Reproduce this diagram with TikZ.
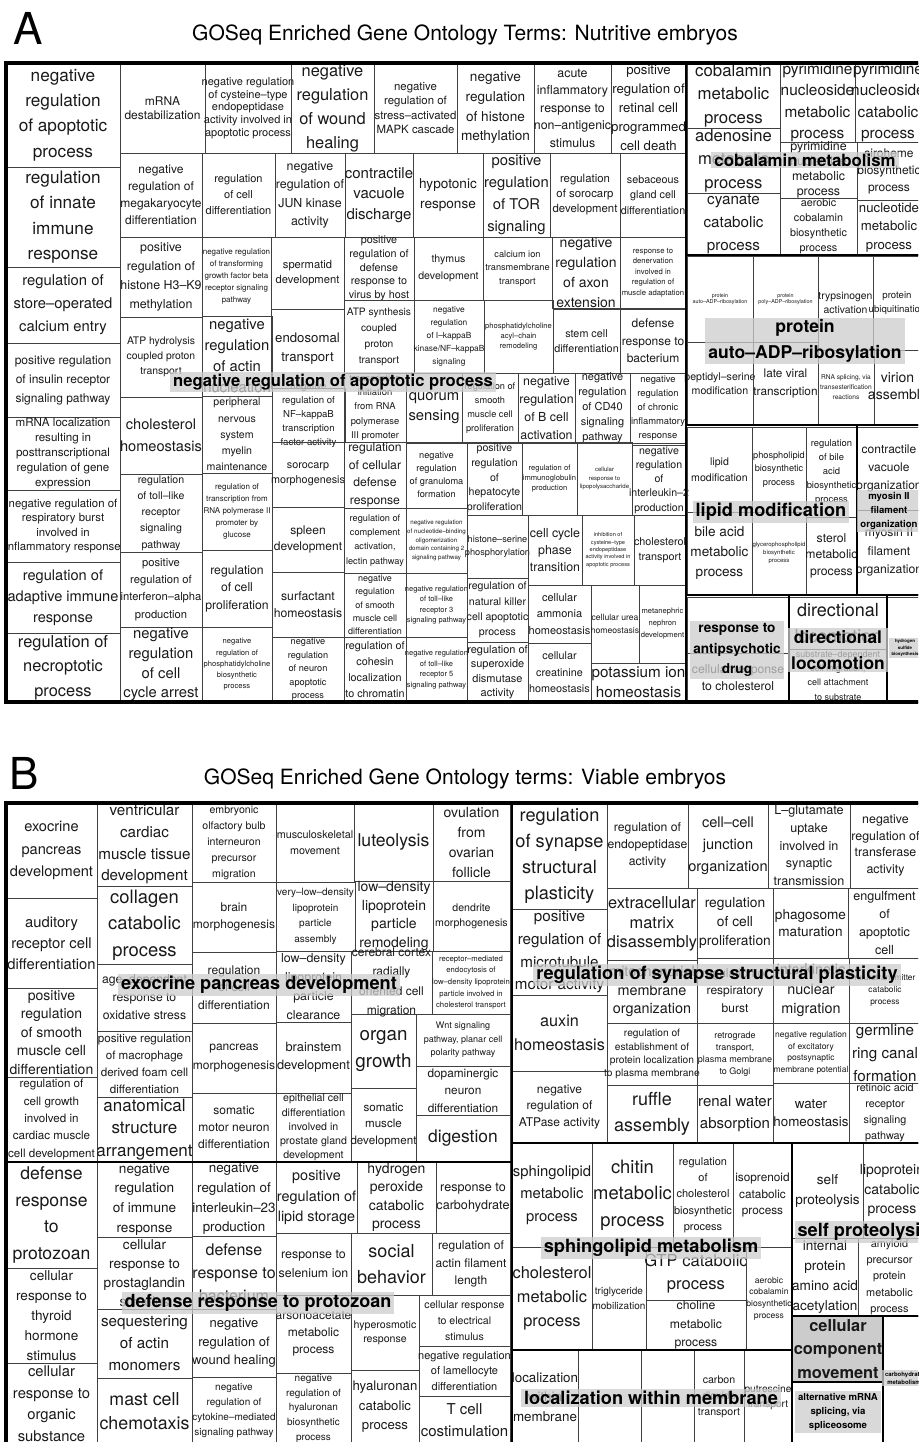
\documentclass[tikz,border=0pt]{standalone}
\usepackage{fontspec}
\setmainfont{TeX Gyre Heros}
\usepackage{tikz}

% one treemap tile: corners, font size, baselineskip, text
\newcommand\gocell[7]{%
  \draw[cellline] (#1,#2) rectangle (#3,#4);
  \node[celltext,font=\fontsize{#5}{#6}\selectfont] at ({(#1+#3)/2},{(#2+#4)/2}) {#7};}
% grey group label: name, position, font size, baselineskip, text
\newcommand\golabel[6]{%
  \node[grouplabel,font=\bfseries\fontsize{#4}{#5}\selectfont] (#1) at (#2,#3) {#6};}

\begin{document}
\begin{tikzpicture}[x=0.5pt,y=-0.5pt,line join=miter]
  \tikzset{cellline/.style={draw=black!75,line width=0.5pt},
    celltext/.style={align=center,inner sep=0pt,text=black!90},
    groupline/.style={draw=black,line width=1.4pt},
    frameline/.style={draw=black,line width=1.8pt},
    grouplabel/.style={align=center,fill=black!20,fill opacity=0.75,text opacity=1,
      inner xsep=1.5pt,inner ysep=1pt},
    paneltitle/.style={font=\fontsize{10.5}{12}\selectfont},
    panelletter/.style={font=\fontsize{22}{26}\selectfont}}

  \path[use as bounding box] (0,0) rectangle (918,1442);
  \clip (0,0) rectangle (918,1442);

  \node[panelletter] (letterA) at (28,28) {A};
  \node[paneltitle] (titleA) at (465,35) {GOSeq Enriched Gene Ontology Terms: Nutritive embryos};

  % A: negative regulation of apoptotic process
  \gocell{6}{63}{120}{167}{8.6}{12.6}{negative\\regulation\\of apoptotic\\process}
  \gocell{6}{167}{120}{267}{8.6}{12.8}{regulation\\of innate\\immune\\response}
  \gocell{6}{267}{120}{343}{7.4}{11.5}{regulation of\\store--operated\\calcium entry}
  \gocell{6}{343}{120}{417}{6}{9.5}{positive regulation\\of insulin receptor\\signaling pathway}
  \gocell{6}{417}{120}{490}{5.8}{7.6}{mRNA localization\\resulting in\\posttranscriptional\\regulation of gene\\expression}
  \gocell{6}{490}{120}{562}{5.7}{7.1}{negative regulation of\\respiratory burst\\involved in\\inflammatory response}
  \gocell{6}{562}{120}{633}{7.3}{10.4}{regulation of\\adaptive immune\\response}
  \gocell{6}{633}{120}{702}{8.2}{12.3}{regulation of\\necroptotic\\process}

  \gocell{120}{63}{205}{153}{6}{7}{mRNA\\destabilization}
  \gocell{205}{63}{291}{153}{5.5}{6.4}{negative regulation\\of cysteine--type\\endopeptidase\\activity involved in\\apoptotic process}
  \gocell{291}{63}{374}{153}{8.2}{12}{negative\\regulation\\of wound\\healing}
  \gocell{374}{63}{457}{153}{5.7}{7.3}{negative\\regulation of\\stress--activated\\MAPK cascade}
  \gocell{457}{63}{534}{153}{6.8}{9.8}{negative\\regulation\\of histone\\methylation}
  \gocell{534}{63}{611}{153}{6.2}{8.75}{acute\\inflammatory\\response to\\non--antigenic\\stimulus}
  \gocell{611}{63}{686}{153}{6.6}{9.5}{positive\\regulation of\\retinal cell\\programmed\\cell death}

  \gocell{120}{153}{202}{237}{6}{8.5}{negative\\regulation of\\megakaryocyte\\differentiation}
  \gocell{202}{153}{275}{237}{5.5}{8}{regulation\\of cell\\differentiation}
  \gocell{275}{153}{345}{237}{6.2}{9.3}{negative\\regulation of\\JUN kinase\\activity}
  \gocell{345}{153}{413}{237}{7.5}{10.4}{contractile\\vacuole\\discharge}
  \gocell{413}{153}{483}{237}{6.8}{10}{hypotonic\\response}
  \gocell{483}{153}{550}{237}{7.4}{10.9}{positive\\regulation\\of TOR\\signaling}
  \gocell{550}{153}{620}{237}{5.7}{7.5}{regulation\\of sorocarp\\development}
  \gocell{620}{153}{686}{237}{5.4}{7.9}{sebaceous\\gland cell\\differentiation}

  \gocell{120}{237}{202}{317}{6.2}{9.5}{positive\\regulation of\\histone H3--K9\\methylation}
  \gocell{202}{237}{271}{316}{4}{5.9}{negative regulation\\of transforming\\growth factor beta\\receptor signaling\\pathway}
  \gocell{271}{237}{344}{309}{5.6}{7.5}{spermatid\\development}
  \gocell{344}{237}{414}{300}{5.4}{6.9}{positive\\regulation of\\defense\\response to\\virus by host}
  \gocell{414}{237}{483}{300}{5.3}{8.3}{thymus\\development}
  \gocell{483}{237}{552}{300}{4.6}{6.9}{calcium ion\\transmembrane\\transport}
  \gocell{552}{237}{620}{308}{7}{10}{negative\\regulation\\of axon\\extension}
  \gocell{620}{237}{686}{308}{3.85}{5.3}{response to\\denervation\\involved in\\regulation of\\muscle adaptation}

  \gocell{120}{317}{202}{397}{5.2}{7.5}{ATP hydrolysis\\coupled proton\\transport}
  \gocell{202}{316}{272}{396}{7.4}{10.5}{negative\\regulation\\of actin\\nucleation}
  \gocell{271}{309}{344}{388}{6.6}{9.7}{endosomal\\transport}
  \gocell{344}{300}{414}{373}{5.1}{8}{ATP synthesis\\coupled\\proton\\transport}
  \gocell{414}{300}{484}{373}{4.2}{6.5}{negative\\regulation\\of I--kappaB\\kinase/NF--kappaB\\signaling}
  \gocell{484}{300}{553}{373}{3.8}{5}{phosphatidylcholine\\acyl--chain\\remodeling}
  \gocell{553}{309}{620}{373}{5.4}{7.5}{stem cell\\differentiation}
  \gocell{620}{309}{686}{373}{6}{8.8}{defense\\response to\\bacterium}

  \gocell{120}{397}{202}{474}{7.3}{11}{cholesterol\\homeostasis}
  \gocell{202}{396}{272}{473}{5.3}{8.1}{peripheral\\nervous\\system\\myelin\\maintenance}
  \gocell{120}{474}{202}{552}{5.3}{8.1}{regulation\\of toll--like\\receptor\\signaling\\pathway}
  \gocell{202}{473}{272}{550}{4}{5.9}{regulation of\\transcription from\\RNA polymerase II\\promoter by\\glucose}
  \gocell{120}{552}{202}{627}{5.6}{8.6}{positive\\regulation of\\interferon--alpha\\production}
  \gocell{202}{550}{272}{627}{6.1}{8.7}{regulation\\of cell\\proliferation}
  \gocell{120}{627}{202}{702}{7.4}{9.9}{negative\\regulation\\of cell\\cycle arrest}
  \gocell{202}{627}{272}{702}{3.8}{5.6}{negative\\regulation of\\phosphatidylcholine\\biosynthetic\\process}

  \gocell{272}{388}{345}{442}{4.8}{7}{negative\\regulation of\\NF--kappaB\\transcription\\factor activity}
  \gocell{272}{442}{344}{507}{5.4}{7.5}{sorocarp\\morphogenesis}
  \gocell{272}{507}{344}{572}{6}{8.3}{spleen\\development}
  \gocell{272}{572}{344}{637}{6.1}{8.3}{surfactant\\homeostasis}
  \gocell{272}{637}{344}{702}{4.6}{6.7}{negative\\regulation\\of neuron\\apoptotic\\process}

  \gocell{344}{373}{406}{442}{4.7}{7.2}{transcription\\initiation\\from RNA\\polymerase\\III promoter}
  \gocell{406}{373}{462}{443}{7.4}{10}{quorum\\sensing}
  \gocell{462}{373}{518}{443}{4.6}{7.1}{regulation of\\smooth\\muscle cell\\proliferation}
  \gocell{518}{373}{575}{443}{6.2}{9}{negative\\regulation\\of B cell\\activation}
  \gocell{575}{373}{630}{443}{5.5}{7.5}{negative\\regulation\\of CD40\\signaling\\pathway}
  \gocell{630}{373}{686}{443}{4.7}{7}{negative\\regulation\\of chronic\\inflammatory\\response}

  \gocell{344}{442}{406}{508}{6.1}{8.8}{regulation\\of cellular\\defense\\response}
  \gocell{406}{442}{467}{508}{4.6}{6.5}{negative\\regulation\\of granuloma\\formation}
  \gocell{467}{442}{522}{515}{5.3}{7.3}{positive\\regulation\\of\\hepatocyte\\proliferation}
  \gocell{522}{442}{577}{515}{3.8}{5}{regulation of\\immunoglobulin\\production}
  \gocell{577}{442}{632}{515}{3}{4.2}{cellular\\response to\\lipopolysaccharide}
  \gocell{632}{445}{686}{515}{5.3}{7.1}{negative\\regulation\\of\\interleukin--2\\production}

  \gocell{344}{508}{406}{573}{4.6}{7.1}{regulation of\\complement\\activation,\\lectin pathway}
  \gocell{406}{508}{467}{573}{3.1}{4.3}{negative regulation\\of nucleotide--binding\\oligomerization\\domain containing 2\\signaling pathway}
  \gocell{467}{515}{528}{578}{4.6}{6.8}{histone--serine\\phosphorylation}
  \gocell{528}{515}{582}{585}{6.2}{8.7}{cell cycle\\phase\\transition}
  \gocell{582}{515}{634}{585}{2.8}{3.7}{inhibition of\\cysteine--type\\endopeptidase\\activity involved in\\apoptotic process}
  \gocell{634}{515}{686}{585}{5.4}{7.5}{cholesterol\\transport}

  \gocell{344}{573}{406}{637}{4.5}{6.7}{negative\\regulation\\of smooth\\muscle cell\\differentiation}
  \gocell{406}{573}{467}{637}{3.75}{5.2}{negative regulation\\of toll--like\\receptor 3\\signaling pathway}
  \gocell{467}{578}{528}{642}{5.3}{7.6}{regulation of\\natural killer\\cell apoptotic\\process}
  \gocell{528}{585}{591}{643}{5.5}{8.2}{cellular\\ammonia\\homeostasis}
  \gocell{591}{585}{639}{663}{4.3}{6.2}{cellular urea\\homeostasis}
  \gocell{639}{585}{686}{663}{3.8}{6}{metanephric\\nephron\\development}
  \gocell{591}{663}{686}{702}{7.6}{10}{potassium ion\\homeostasis}
  \gocell{528}{643}{591}{702}{5.4}{8.3}{cellular\\creatinine\\homeostasis}
  \gocell{467}{642}{528}{702}{5.5}{7.2}{regulation of\\superoxide\\dismutase\\activity}
  \gocell{406}{637}{467}{702}{3.75}{5.2}{negative regulation\\of toll--like\\receptor 5\\signaling pathway}
  \gocell{344}{637}{406}{702}{5.4}{8}{regulation of\\cohesin\\localization\\to chromatin}

  % A: right hand groups
  \gocell{687}{63}{780}{128}{8.4}{11.8}{cobalamin\\metabolic\\process}
  \gocell{687}{128}{780}{193}{8.3}{11.8}{adenosine\\metabolic\\process}
  \gocell{687}{193}{780}{255}{7.6}{11.4}{cyanate\\catabolic\\process}
  \gocell{780}{63}{855}{142}{7.7}{10.8}{pyrimidine\\nucleoside\\metabolic\\process}
  \gocell{855}{63}{921}{142}{7.7}{10.8}{pyrimidine\\nucleoside\\catabolic\\process}
  \gocell{780}{142}{857}{198}{6.2}{7.6}{pyrimidine\\nucleotide\\metabolic\\process}
  \gocell{857}{142}{921}{200}{6}{8.5}{siroheme\\biosynthetic\\process}
  \gocell{780}{198}{857}{255}{5.4}{7.5}{aerobic\\cobalamin\\biosynthetic\\process}
  \gocell{857}{200}{921}{255}{6.6}{9.4}{nucleotide\\metabolic\\process}

  \gocell{687}{256}{753}{342}{2.7}{3}{protein\\auto--ADP--ribosylation}
  \gocell{753}{256}{818}{342}{2.7}{3}{protein\\poly--ADP--ribosylation}
  \gocell{818}{256}{873}{350}{5.2}{7.2}{trypsinogen\\activation}
  \gocell{873}{256}{921}{350}{4.8}{6.7}{protein\\ubiquitination}
  \gocell{687}{342}{753}{425}{5.3}{7.2}{peptidyl--serine\\modification}
  \gocell{753}{342}{818}{425}{5.9}{9.2}{late viral\\transcription}
  \gocell{818}{350}{874}{425}{3.3}{5}{RNA splicing, via\\transesterification\\reactions}
  \gocell{874}{350}{921}{425}{7}{8.8}{virion\\assembly}

  \gocell{687}{427}{752}{512}{5.3}{8}{lipid\\modification}
  \gocell{752}{427}{806}{512}{4.6}{6.7}{phospholipid\\biosynthetic\\process}
  \gocell{806}{427}{857}{517}{4.7}{7.1}{regulation\\of bile\\acid\\biosynthetic\\process}
  \gocell{687}{512}{752}{594}{6.8}{9.8}{bile acid\\metabolic\\process}
  \gocell{752}{512}{806}{594}{3}{4.2}{glycerophospholipid\\biosynthetic\\process}
  \gocell{806}{517}{857}{594}{6.1}{8.3}{sterol\\metabolic\\process}
  \gocell{857}{427}{921}{510}{6}{8.8}{contractile\\vacuole\\organization}
  \gocell{857}{510}{921}{594}{6.1}{9.2}{myosin II\\filament\\organization}

  \gocell{687}{597}{789}{653}{5}{6}{}
  \gocell{687}{653}{789}{702}{6.1}{8.3}{cellular response\\to cholesterol}
  \gocell{789}{597}{887}{649}{9}{13}{directional\\locomotion}
  \gocell{789}{649}{887}{702}{4.5}{7.1}{substrate--dependent\\cell migration,\\cell attachment\\to substrate}
  \gocell{887}{597}{921}{702}{2}{3}{}

  \draw[groupline] (6,63) rectangle (686,702);
  \draw[groupline] (686,63) rectangle (921,255);
  \draw[groupline] (686,255) rectangle (921,425);
  \draw[groupline] (686,425) rectangle (857,595);
  \draw[groupline] (857,425) rectangle (921,595);
  \draw[groupline] (686,595) rectangle (789,702);
  \draw[groupline] (789,595) rectangle (887,702);
  \draw[groupline] (887,595) rectangle (921,702);
  \draw[frameline] (6,63) rectangle (921,702);

  \golabel{lblApoptotic}{333}{382}{8.3}{10}{negative regulation of apoptotic process}
  \golabel{lblCobalamin}{805}{160}{8.4}{10}{cobalamin metabolism}
  \golabel{lblProtein}{805}{341}{8.8}{13}{protein\\auto--ADP--ribosylation}
  \golabel{lblLipid}{771}{512}{9.1}{11}{lipid modification}
  \golabel{lblMyosin}{889}{511}{4.8}{7}{myosin II\\filament\\organization}
  \golabel{lblAntipsychotic}{737}{650}{6.8}{10.3}{response to\\antipsychotic\\drug}
  \golabel{lblDirectional}{838}{650}{8.7}{13}{directional\\locomotion}
  \golabel{lblSulfide}{905}{648}{2.2}{3.2}{hydrogen\\sulfide\\biosynthesis}

  \node[panelletter] (letterB) at (24,773) {B};
  \node[paneltitle] (titleB) at (465,779) {GOSeq Enriched Gene Ontology terms: Viable embryos};

  % B: exocrine pancreas development
  \gocell{6}{803}{97}{898}{7.3}{11.2}{exocrine\\pancreas\\development}
  \gocell{6}{898}{97}{988}{7.4}{10.5}{auditory\\receptor cell\\differentiation}
  \gocell{6}{988}{97}{1077}{7}{9.3}{positive\\regulation\\of smooth\\muscle cell\\differentiation}
  \gocell{6}{1077}{97}{1162}{5.8}{8.7}{regulation of\\cell growth\\involved in\\cardiac muscle\\cell development}
  \gocell{97}{803}{192}{886}{7.6}{10.8}{ventricular\\cardiac\\muscle tissue\\development}
  \gocell{97}{886}{192}{964}{9.2}{13.2}{collagen\\catabolic\\process}
  \gocell{97}{964}{192}{1031}{6.1}{9}{age--dependent\\response to\\oxidative stress}
  \gocell{97}{1031}{192}{1097}{5.8}{8.6}{positive regulation\\of macrophage\\derived foam cell\\differentiation}
  \gocell{97}{1097}{192}{1162}{8.5}{11.3}{anatomical\\structure\\arrangement}
  \gocell{192}{803}{276}{882}{5.3}{8}{embryonic\\olfactory bulb\\interneuron\\precursor\\migration}
  \gocell{192}{882}{276}{952}{6}{8.8}{brain\\morphogenesis}
  \gocell{192}{952}{276}{1023}{6}{8.9}{regulation\\of cell\\differentiation}
  \gocell{192}{1023}{276}{1093}{6}{9.2}{pancreas\\morphogenesis}
  \gocell{192}{1093}{276}{1162}{6}{8.4}{somatic\\motor neuron\\differentiation}
  \gocell{276}{803}{354}{882}{5.4}{7.9}{musculoskeletal\\movement}
  \gocell{276}{882}{355}{951}{5}{7.8}{very--low--density\\lipoprotein\\particle\\assembly}
  \gocell{276}{951}{351}{1022}{6.2}{9.5}{low--density\\lipoprotein\\particle\\clearance}
  \gocell{276}{1022}{351}{1093}{6.4}{9.2}{brainstem\\development}
  \gocell{276}{1093}{351}{1162}{5.3}{7.1}{epithelial cell\\differentiation\\involved in\\prostate gland\\development}
  \gocell{354}{803}{433}{881}{8.8}{11}{luteolysis}
  \gocell{433}{803}{510}{881}{7}{10}{ovulation\\from\\ovarian\\follicle}
  \gocell{355}{881}{433}{951}{7}{9.4}{low--density\\lipoprotein\\particle\\remodeling}
  \gocell{433}{881}{510}{951}{5.3}{7.3}{dendrite\\morphogenesis}
  \gocell{351}{951}{432}{1014}{6}{9.6}{cerebral cortex\\radially\\oriented cell\\migration}
  \gocell{432}{951}{510}{1014}{3.85}{5.8}{receptor--mediated\\endocytosis of\\low--density lipoprotein\\particle involved in\\cholesterol transport}
  \gocell{351}{1014}{416}{1088}{9.4}{13.3}{organ\\growth}
  \gocell{416}{1014}{510}{1066}{4.5}{6.8}{Wnt signaling\\pathway, planar cell\\polarity pathway}
  \gocell{416}{1066}{510}{1115}{5.9}{8.8}{dopaminergic\\neuron\\differentiation}
  \gocell{351}{1088}{416}{1162}{5.8}{8.3}{somatic\\muscle\\development}
  \gocell{416}{1115}{510}{1162}{8.7}{10}{digestion}

  % B: defense response to protozoan
  \gocell{6}{1162}{97}{1268}{8.8}{13.2}{defense\\response\\to\\protozoan}
  \gocell{6}{1268}{97}{1363}{6.8}{10}{cellular\\response to\\thyroid\\hormone\\stimulus}
  \gocell{6}{1363}{97}{1444}{7.4}{10.8}{cellular\\response to\\organic\\substance}
  \gocell{97}{1162}{192}{1237}{6.8}{9.9}{negative\\regulation\\of immune\\response}
  \gocell{97}{1237}{192}{1309}{6.8}{9.5}{cellular\\response to\\prostaglandin\\stimulus}
  \gocell{97}{1309}{192}{1378}{7.6}{11}{sequestering\\of actin\\monomers}
  \gocell{97}{1378}{192}{1444}{8.9}{12.2}{mast cell\\chemotaxis}
  \gocell{192}{1162}{276}{1236}{6.7}{9.8}{negative\\regulation of\\interleukin--23\\production}
  \gocell{192}{1236}{276}{1309}{8}{11.4}{defense\\response to\\bacterium}
  \gocell{192}{1309}{276}{1377}{6.5}{9.3}{negative\\regulation of\\wound healing}
  \gocell{192}{1377}{276}{1444}{5}{7.5}{negative\\regulation of\\cytokine--mediated\\signaling pathway}
  \gocell{276}{1162}{357}{1233}{7.2}{10.3}{positive\\regulation of\\lipid storage}
  \gocell{276}{1233}{351}{1295}{6.2}{9.2}{response to\\selenium ion}
  \gocell{276}{1295}{351}{1373}{6}{8.4}{arsonoacetate\\metabolic\\process}
  \gocell{276}{1373}{351}{1444}{5}{7.3}{negative\\regulation of\\hyaluronan\\biosynthetic\\process}
  \gocell{357}{1162}{436}{1233}{7}{9.3}{hydrogen\\peroxide\\catabolic\\process}
  \gocell{436}{1162}{510}{1233}{6.3}{8.8}{response to\\carbohydrate}
  \gocell{351}{1233}{432}{1295}{9}{12.8}{social\\behavior}
  \gocell{432}{1233}{510}{1295}{6}{8.6}{regulation of\\actin filament\\length}
  \gocell{351}{1295}{419}{1370}{5.3}{7}{hyperosmotic\\response}
  \gocell{419}{1295}{510}{1346}{5.3}{7.9}{cellular response\\to electrical\\stimulus}
  \gocell{419}{1346}{510}{1396}{5.5}{7.8}{negative regulation\\of lamellocyte\\differentiation}
  \gocell{351}{1370}{419}{1444}{6.6}{9.8}{hyaluronan\\catabolic\\process}
  \gocell{419}{1396}{510}{1444}{7.5}{11.3}{T cell\\costimulation}

  % B: regulation of synapse structural plasticity
  \gocell{512}{803}{607}{909}{9.1}{13.1}{regulation\\of synapse\\structural\\plasticity}
  \gocell{512}{909}{607}{995}{7.6}{11.4}{positive\\regulation of\\microtubule\\motor activity}
  \gocell{512}{995}{607}{1071}{8.1}{12.2}{auxin\\homeostasis}
  \gocell{512}{1071}{607}{1143}{6}{8.3}{negative\\regulation of\\ATPase activity}
  \gocell{607}{803}{688}{888}{6.1}{8.6}{regulation of\\endopeptidase\\activity}
  \gocell{688}{803}{768}{888}{7.3}{11}{cell--cell\\junction\\organization}
  \gocell{768}{803}{850}{888}{6.3}{8.8}{L--glutamate\\uptake\\involved in\\synaptic\\transmission}
  \gocell{850}{803}{921}{888}{6.2}{8.4}{negative\\regulation of\\transferase\\activity}
  \gocell{607}{888}{697}{960}{8.2}{9.7}{extracellular\\matrix\\disassembly}
  \gocell{697}{888}{773}{958}{6.9}{9.5}{regulation\\of cell\\proliferation}
  \gocell{773}{888}{848}{958}{6.8}{8.3}{phagosome\\maturation}
  \gocell{848}{888}{921}{958}{6.3}{9}{engulfment\\of\\apoptotic\\cell}
  \gocell{607}{960}{697}{1023}{7.2}{9.3}{mitochondrial\\membrane\\organization}
  \gocell{697}{958}{773}{1023}{6}{8.7}{regulation of\\respiratory\\burst}
  \gocell{773}{958}{849}{1023}{7.2}{9.8}{interkinetic\\nuclear\\migration}
  \gocell{849}{958}{921}{1023}{4.2}{5.8}{neurotransmitter\\catabolic\\process}
  \gocell{607}{1023}{697}{1085}{5.1}{6.6}{regulation of\\establishment of\\protein localization\\to plasma membrane}
  \gocell{697}{1023}{773}{1085}{4.5}{6}{retrograde\\transport,\\plasma membrane\\to Golgi}
  \gocell{773}{1023}{849}{1083}{4.25}{5.8}{negative regulation\\of excitatory\\postsynaptic\\membrane potential}
  \gocell{849}{1023}{921}{1083}{7.6}{11.3}{germline\\ring canal\\formation}
  \gocell{607}{1085}{697}{1143}{9}{13}{ruffle\\assembly}
  \gocell{697}{1085}{773}{1143}{7.5}{11}{renal water\\absorption}
  \gocell{773}{1083}{849}{1143}{6.7}{9}{water\\homeostasis}
  \gocell{849}{1083}{921}{1143}{5.4}{8}{retinoic acid\\receptor\\signaling\\pathway}

  % B: lower right groups
  \gocell{512}{1143}{592}{1247}{7.4}{11.3}{sphingolipid\\metabolic\\process}
  \gocell{512}{1247}{592}{1350}{8.2}{12}{cholesterol\\metabolic\\process}
  \gocell{592}{1143}{673}{1247}{9.2}{13.2}{chitin\\metabolic\\process}
  \gocell{673}{1143}{733}{1247}{5.5}{8.2}{regulation\\of\\cholesterol\\biosynthetic\\process}
  \gocell{733}{1143}{792}{1247}{5.9}{8.3}{isoprenoid\\catabolic\\process}
  \gocell{592}{1247}{646}{1350}{5}{7.3}{triglyceride\\mobilization}
  \gocell{646}{1247}{746}{1300}{8.3}{11.7}{GTP catabolic\\process}
  \gocell{646}{1300}{746}{1350}{6.1}{9.2}{choline\\metabolic\\process}
  \gocell{746}{1247}{792}{1350}{4.3}{5.9}{aerobic\\cobalamin\\biosynthetic\\process}

  \gocell{512}{1350}{578}{1444}{6.7}{9.8}{localization\\within\\membrane}
  \gocell{578}{1350}{641}{1444}{5}{6}{}
  \gocell{641}{1350}{694}{1444}{5}{6}{}
  \gocell{694}{1350}{744}{1444}{5.3}{8}{carbon\\dioxide\\transport}
  \gocell{744}{1350}{792}{1444}{5.1}{7.5}{putrescine\\transport}

  \gocell{792}{1143}{863}{1238}{6.8}{10}{self\\proteolysis}
  \gocell{863}{1143}{921}{1238}{7}{9.8}{lipoprotein\\catabolic\\process}
  \gocell{792}{1238}{858}{1316}{6.8}{10}{internal\\protein\\amino acid\\acetylation}
  \gocell{858}{1238}{921}{1316}{5.45}{8.2}{amyloid\\precursor\\protein\\metabolic\\process}

  \fill[black!20] (792,1316) rectangle (883,1382);
  \gocell{792}{1382}{883}{1444}{5}{6}{}
  \gocell{883}{1316}{921}{1444}{5}{6}{}

  \draw[groupline] (6,803) rectangle (512,1162);
  \draw[groupline] (6,1162) rectangle (512,1444);
  \draw[groupline] (512,803) rectangle (921,1143);
  \draw[groupline] (512,1143) rectangle (792,1350);
  \draw[groupline] (512,1350) rectangle (792,1444);
  \draw[groupline] (792,1143) rectangle (921,1316);
  \draw[groupline] (792,1316) rectangle (883,1382);
  \draw[groupline] (792,1382) rectangle (883,1444);
  \draw[groupline] (883,1316) rectangle (921,1444);
  \draw[frameline] (6,803) rectangle (921,1444);

  \golabel{lblExocrine}{259}{985}{9.1}{11}{exocrine pancreas development}
  \golabel{lblProtozoan}{258}{1303}{9}{11}{defense response to protozoan}
  \golabel{lblSynapse}{717}{975}{9.1}{11}{regulation of synapse structural plasticity}
  \golabel{lblSphingo}{651}{1248}{9.1}{11}{sphingolipid metabolism}
  \golabel{lblMembrane}{651}{1398}{9.1}{11}{localization within membrane}
  \golabel{lblSelf}{864}{1232}{9.1}{11}{self proteolysis}
  \node[celltext,font=\bfseries\fontsize{8.2}{11.8}\selectfont] (lblMovement) at (838,1349) {cellular\\component\\movement};
  \golabel{lblSplicing}{838}{1412}{4.8}{7.1}{alternative mRNA\\splicing, via\\spliceosome}
  \golabel{lblCarbohydrate}{904}{1378}{3}{4}{carbohydrate\\metabolism}
\end{tikzpicture}
\end{document}
